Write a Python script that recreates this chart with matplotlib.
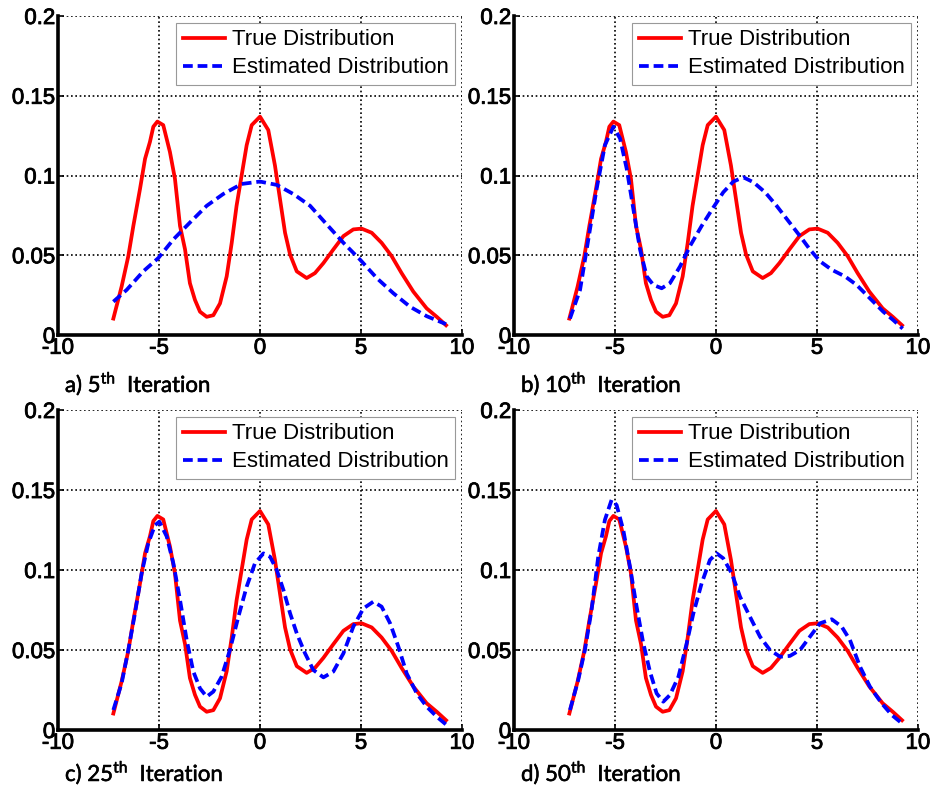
import matplotlib
matplotlib.use("Agg")
import matplotlib.pyplot as plt
import matplotlib.patheffects as pe

plt.rcParams['font.family'] = ['Liberation Sans', 'DejaVu Sans']
plt.rcParams['mathtext.fontset'] = 'custom'
plt.rcParams['mathtext.rm'] = 'Lato'

# True distribution (same in every panel)
true_x = [-7.26, -6.85, -6.52, -6.27, -5.94, -5.69, -5.45, -5.28, -5.08, -4.79, -4.46, -4.21,
          -3.96, -3.71, -3.47, -3.22, -2.97, -2.64, -2.31, -1.98, -1.65, -1.40, -1.16, -0.91,
          -0.66, -0.41, 0.00, 0.41, 0.74, 0.99, 1.24, 1.49, 1.82, 2.31, 2.72, 3.14, 3.63, 4.13,
          4.62, 5.03, 5.53, 6.02, 6.52, 7.01, 7.59, 8.25, 8.75, 9.21]
true_y = [0.0103, 0.0304, 0.0494, 0.0684, 0.0916, 0.1105, 0.121, 0.1306, 0.1338, 0.1316, 0.1148,
          0.0979, 0.0684, 0.0536, 0.0325, 0.022, 0.0146, 0.0114, 0.0124, 0.0198, 0.0367, 0.0578,
          0.081, 0.100, 0.119, 0.1316, 0.1369, 0.1285, 0.1063, 0.0852, 0.0641, 0.0504, 0.0399,
          0.0357, 0.0388, 0.0451, 0.0536, 0.062, 0.0662, 0.0667, 0.0641, 0.0578, 0.0494, 0.0388,
          0.0272, 0.0167, 0.0114, 0.0061]

# Estimated distributions
est_a_x = [-7.26, -6.60, -5.78, -5.03, -4.29, -3.47, -2.64, -1.82, -0.91, 0.00, 0.83, 1.65,
           2.48, 3.30, 4.13, 4.95, 5.78, 6.60, 7.43, 8.25, 9.21]
est_a_y = [0.0209, 0.0283, 0.0399, 0.0483, 0.0599, 0.0705, 0.081, 0.0884, 0.0947, 0.0962,
           0.0941, 0.0884, 0.081, 0.0694, 0.0578, 0.0473, 0.0357, 0.0262, 0.0177, 0.0118, 0.0068]

est_b_x = [-7.23, -6.73, -6.32, -5.91, -5.50, -5.08, -4.75, -4.42, -4.09, -3.76, -3.43, -3.10,
           -2.69, -2.28, -1.78, -1.29, -0.71, -0.13, 0.36, 0.86, 1.35, 1.85, 2.43, 3.00, 3.58,
           4.16, 4.65, 5.15, 5.73, 6.39, 6.96, 7.62, 8.28, 8.78, 9.24]
est_b_y = [0.0103, 0.0283, 0.060, 0.0916, 0.119, 0.1306, 0.1232, 0.1042, 0.0789, 0.0536, 0.0367,
           0.0314, 0.0293, 0.0325, 0.043, 0.0557, 0.0684, 0.080, 0.0895, 0.0962, 0.0989, 0.0958,
           0.0895, 0.081, 0.0715, 0.062, 0.0536, 0.0462, 0.0409, 0.0367, 0.0314, 0.023, 0.0146,
           0.0093, 0.004]

est_c_x = [-7.26, -6.85, -6.52, -6.19, -5.86, -5.53, -5.20, -4.98, -4.62, -4.29, -3.96, -3.63,
           -3.30, -2.97, -2.64, -2.31, -1.90, -1.49, -1.07, -0.66, -0.25, 0.17, 0.50, 0.83, 1.16,
           1.49, 1.82, 2.23, 2.64, 3.14, 3.63, 4.13, 4.62, 5.12, 5.61, 6.02, 6.44, 6.85, 7.26,
           7.76, 8.25, 8.75, 9.24]
est_c_y = [0.0125, 0.0292, 0.050, 0.0729, 0.0979, 0.1167, 0.128, 0.1302, 0.121, 0.1042, 0.0813,
           0.0563, 0.0365, 0.026, 0.0208, 0.024, 0.0333, 0.050, 0.0708, 0.0896, 0.1042, 0.1104,
           0.1083, 0.100, 0.0875, 0.0729, 0.0604, 0.0479, 0.0375, 0.0329, 0.0365, 0.0479, 0.0646,
           0.076, 0.0802, 0.0771, 0.0667, 0.0521, 0.0354, 0.0229, 0.0146, 0.0083, 0.0031]

est_d_x = [-7.23, -6.82, -6.49, -6.16, -5.83, -5.50, -5.17, -4.92, -4.59, -4.26, -3.93, -3.60,
           -3.27, -2.94, -2.61, -2.28, -1.86, -1.45, -1.12, -0.71, -0.30, 0.03, 0.36, 0.78, 1.19,
           1.68, 2.18, 2.67, 3.17, 3.66, 4.16, 4.65, 5.15, 5.73, 6.22, 6.63, 7.13, 7.62, 8.20,
           8.70, 9.24]
est_d_y = [0.0125, 0.0313, 0.050, 0.075, 0.1083, 0.1313, 0.1438, 0.1406, 0.125, 0.1021, 0.0771,
           0.0542, 0.0365, 0.0229, 0.0177, 0.0219, 0.0333, 0.0542, 0.0729, 0.0917, 0.1063, 0.1104,
           0.1073, 0.0979, 0.0833, 0.0708, 0.0583, 0.050, 0.0458, 0.0463, 0.050, 0.0583, 0.0667,
           0.0692, 0.0646, 0.0563, 0.0396, 0.0271, 0.0167, 0.0094, 0.0038]

x_ticks = [-10, -5, 0, 5, 10]
x_tick_labels = ['-10', '-5', '0', '5', '10']
y_ticks = [0, 0.05, 0.1, 0.15, 0.2]
y_tick_labels = ['0', '0.05', '0.1', '0.15', '0.2']

captions = [('a) 5', 'th', 'Iteration'), ('b) 10', 'th', 'Iteration'),
            ('c) 25', 'th', 'Iteration'), ('d) 50', 'th', 'Iteration')]
estimates = [(est_a_x, est_a_y), (est_b_x, est_b_y), (est_c_x, est_c_y), (est_d_x, est_d_y)]

W, H = 932, 790
fig = plt.figure(figsize=(W / 100, H / 100), dpi=100)

# axes boxes in pixels: left, top, right, bottom
boxes = [(58, 16, 462, 335), (514, 16, 918, 335), (58, 410, 462, 730), (514, 410, 918, 730)]
caption_baselines = [392, 392, 781, 781]

thick = [pe.withStroke(linewidth=0.6, foreground='black')]

for i, (l, t, r, b) in enumerate(boxes):
    ax = fig.add_axes([l / W, 1 - b / H, (r - l) / W, (b - t) / H])
    ex, ey = estimates[i]
    ax.plot(true_x, true_y, color='#ff0000', lw=2.7, label='True Distribution', zorder=3)
    ax.plot(ex, ey, color='#0000ff', lw=2.7, ls=(0, (2.6, 1.3)), label='Estimated Distribution', zorder=4)
    ax.set_xlim(-10, 10)
    ax.set_ylim(0, 0.2)
    ax.set_xticks(x_ticks)
    ax.set_xticklabels(x_tick_labels)
    ax.set_yticks(y_ticks)
    ax.set_yticklabels(y_tick_labels)
    ax.grid(True, color='black', ls=(0, (1, 1.6)), lw=1.2)
    ax.set_axisbelow(True)
    for s in ('top', 'right'):
        ax.spines[s].set_visible(False)
    for s in ('left', 'bottom'):
        ax.spines[s].set_linewidth(2.6)
        ax.spines[s].set_zorder(5)
    ax.tick_params(direction='in', length=4, width=1.2, labelsize=16, pad=2)
    for lab in ax.get_xticklabels() + ax.get_yticklabels():
        lab.set_path_effects(thick)
    leg = ax.legend(loc='upper right', fontsize=16, frameon=True, fancybox=False,
                    edgecolor='#999999', framealpha=1, handlelength=1.9,
                    borderaxespad=0.3, borderpad=0.3, labelspacing=0.32, handletextpad=0.3)
    leg.get_frame().set_linewidth(0.8)
    leg.set_zorder(6)
    c0, c1, c2 = captions[i]
    fig.text((l + 7) / W, 1 - caption_baselines[i] / H,
             c0 + r'$^{\mathrm{' + c1 + r'}}$' + '  ' + c2,
             fontsize=16, family=['Lato', 'DejaVu Sans'], ha='left', va='baseline',
             path_effects=[pe.withStroke(linewidth=0.4, foreground='black')])

fig.savefig('out.png', dpi=100, facecolor='white')
